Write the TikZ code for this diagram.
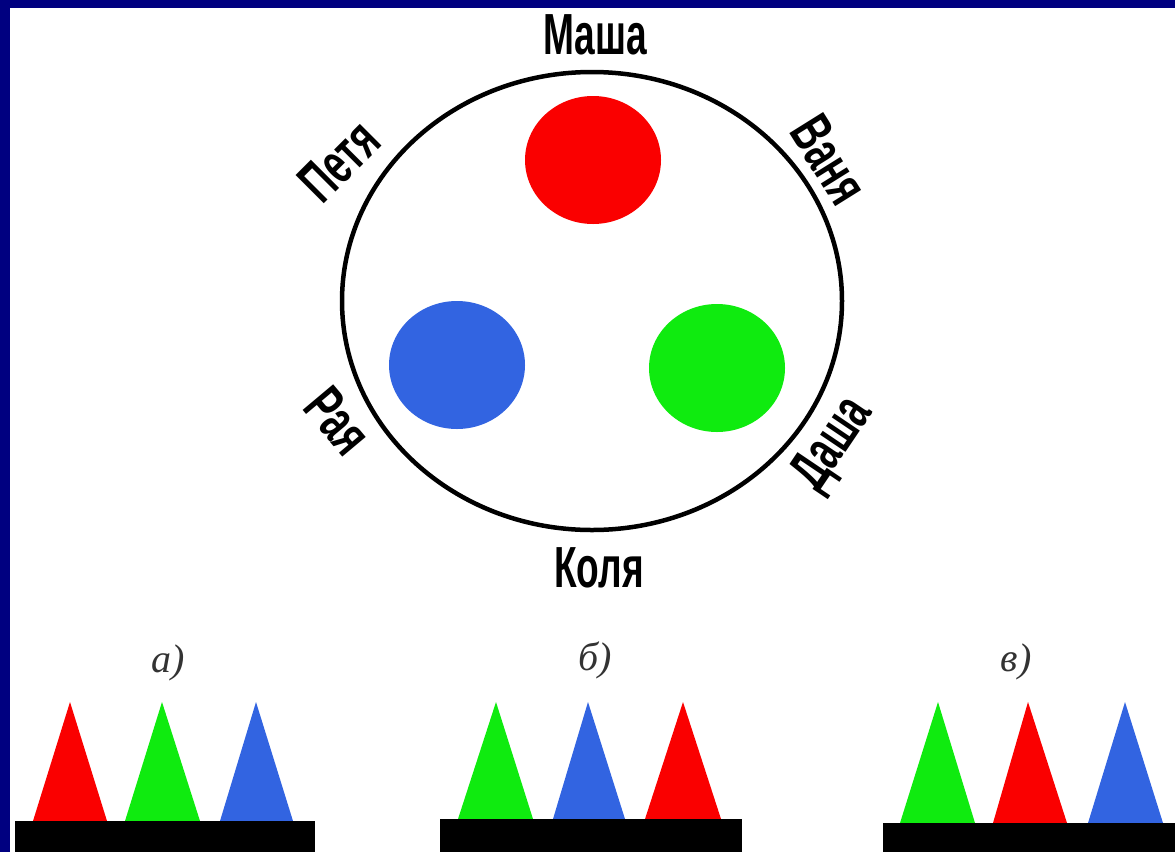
\documentclass[tikz,border=0pt]{standalone}
\usepackage{fontspec}
\setmainfont{Liberation Serif}
\newfontfamily\namefont{Liberation Sans}
\usetikzlibrary{shapes.geometric}
\definecolor{navyb}{RGB}{0,0,128}
\definecolor{cred}{RGB}{250,0,0}
\definecolor{cgreen}{RGB}{15,235,15}
\definecolor{cblue}{RGB}{50,100,225}
\newcommand\nm[1]{\scalebox{0.64}[1]{#1}}
\begin{document}
\begin{tikzpicture}[x=1pt,y=-1pt,
  pname/.style={font=\namefont\bfseries\fontsize{58}{58}\selectfont, inner sep=0pt},
  plabel/.style={font=\itshape\fontsize{40}{40}\selectfont, text=black!80, inner sep=0pt},
  disc/.style={ellipse, inner sep=0pt, minimum width=136pt, minimum height=128pt},
  bar/.style={fill=black}]
\useasboundingbox (0,0) rectangle (1175,852);
\fill[white] (0,0) rectangle (1175,852);
\fill[navyb] (0,0) rectangle (1175,8);
\fill[navyb] (0,0) rectangle (10,852);
% big circle
\node[draw, line width=4.5pt, ellipse, inner sep=0pt, minimum width=500pt, minimum height=458pt] (ring) at (592,301) {};
% coloured discs
\node[disc, fill=cred] (dred) at (593,160) {};
\node[disc, fill=cblue] (dblue) at (457,365) {};
\node[disc, fill=cgreen] (dgreen) at (717,368) {};
% names
\node[pname] (masha) at (595,35) {\nm{Маша}};
\node[pname] (kolya) at (599,568) {\nm{Коля}};
\node[pname, rotate=45] (petya) at (339,161) {\nm{Петя}};
\node[pname, rotate=-58] (vanya) at (829,160) {\nm{Ваня}};
\node[pname, rotate=-50] (raya) at (338,421) {\nm{Рая}};
\node[pname, rotate=56] (dasha) at (834,445) {\nm{Даша}};
% panel labels
\node[plabel] (la) at (168,663) {а)};
\node[plabel] (lb) at (595,660) {б)};
\node[plabel] (lc) at (1016,662) {в)};
% panel a
\fill[cred] (33,821) -- (70,702) -- (107,821) -- cycle;
\fill[cgreen] (125,821) -- (162,702) -- (200,821) -- cycle;
\fill[cblue] (220,821) -- (256,702) -- (293,821) -- cycle;
\fill[bar] (15,821) rectangle (315,852);
% panel b
\fill[cgreen] (458,819) -- (496,702) -- (533,819) -- cycle;
\fill[cblue] (553,819) -- (588,702) -- (625,819) -- cycle;
\fill[cred] (645,819) -- (683,702) -- (721,819) -- cycle;
\fill[bar] (440,819) rectangle (742,852);
% panel c
\fill[cgreen] (900,823) -- (938,702) -- (975,823) -- cycle;
\fill[cred] (993,823) -- (1028,702) -- (1067,823) -- cycle;
\fill[cblue] (1088,823) -- (1125,702) -- (1163,823) -- cycle;
\fill[bar] (883,823) rectangle (1175,852);
\end{tikzpicture}
\end{document}
